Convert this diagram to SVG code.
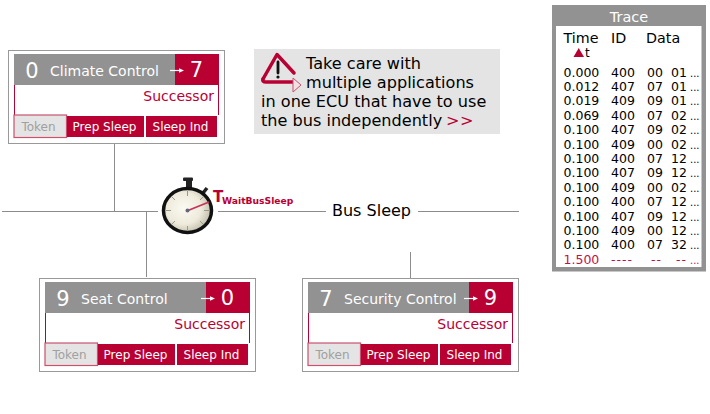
<svg xmlns="http://www.w3.org/2000/svg" width="710" height="414" viewBox="0 0 710 414">
<defs>
<radialGradient id="face" cx="0.42" cy="0.45" r="0.6"><stop offset="0" stop-color="#fbfaf2"/><stop offset="0.6" stop-color="#eeebdc"/><stop offset="1" stop-color="#bdbaa8"/></radialGradient>
<g id="ecu">
<rect class="frame" x="8.500" y="50.500" width="216" height="93"/>
<rect class="grey" x="14" y="54" width="161" height="31"/>
<rect class="red" x="175" y="54" width="44" height="31"/>
<path class="edge" d="M14.500 85V115M218.500 85V115"/>
<rect x="14" y="115" width="52.500" height="22.500" fill="#e4e4e4" stroke="#c9526f" stroke-width="1.200"/>
<rect class="red" x="67" y="116" width="77" height="21"/>
<rect class="red" x="146" y="116" width="71" height="21"/>
<text class="succ" x="214" y="101" text-anchor="end">Successor</text>
<text class="tok" x="38.500" y="131" text-anchor="middle">Token</text>
<text class="btn" x="104.500" y="131" text-anchor="middle">Prep Sleep</text>
<text class="btn" x="180.500" y="131" text-anchor="middle">Sleep Ind</text>
<path d="M170 70.500H179" stroke="#fff" stroke-width="1.200"/><path d="M179 68.200L184 70.500L179 72.800Z" fill="#fff"/>
</g>
</defs>
<style>
text{font-family:"DejaVu Sans",Verdana,sans-serif}
.frame{fill:#fff;stroke:#999;stroke-width:1}
.grey{fill:#929292}.red{fill:#b90033}
.edge{fill:none;stroke:#b90033;stroke-width:1}
.num{font-size:21px;fill:#fff}
.name{font-size:14px;fill:#fff}
.succ{font-size:14px;fill:#b90033}
.tok{font-size:12px;fill:#a0a0a0}
.btn{font-size:12px;fill:#fff}
.bus{fill:none;stroke:#8c8c8c;stroke-width:1}
.note{font-size:16.100px;fill:#000}
.hd{font-size:14.300px;fill:#000}
.tr{font-size:12.500px;fill:#000}
.dots{font-size:10px;fill:#000}
.late{font-size:12.500px;fill:#c0104a}
</style>
<g id="connectors">
<path class="bus" d="M2 211.500H158M218 211.500H326M418 211.500H519M114.500 144V211.500M146.500 211.500V277M410.500 252V278"/>
</g>
<g id="node-climate">
<use href="#ecu"/>
<text class="num" x="32" y="78" text-anchor="middle">0</text>
<text class="name" x="50" y="76">Climate Control</text>
<text class="num" x="196.500" y="77" text-anchor="middle">7</text>
</g>
<g id="node-seat" transform="translate(31 228)">
<use href="#ecu"/>
<text class="num" x="32" y="78" text-anchor="middle">9</text>
<text class="name" x="50" y="76">Seat Control</text>
<text class="num" x="196.500" y="77" text-anchor="middle">0</text>
</g>
<g id="node-security" transform="translate(294 228)">
<use href="#ecu"/>
<text class="num" x="32" y="78" text-anchor="middle">7</text>
<text class="name" x="50" y="76">Security Control</text>
<text class="num" x="196.500" y="77" text-anchor="middle">9</text>
</g>
<g id="note">
<rect x="254" y="49" width="246" height="85" fill="#e4e4e4"/>
<path d="M263 79L277 54.500L294 73" fill="none" stroke="#b90033" stroke-width="3.500" stroke-linejoin="round" stroke-linecap="round"/>
<path d="M263 79Q262 82 266 82H293" fill="none" stroke="#b90033" stroke-width="3.500" stroke-linecap="round"/>
<path d="M293 78L301 85L293 92Z" fill="#f4dfe5" stroke="#c9526f" stroke-width="1"/>
<path d="M278 62V73" stroke="#111" stroke-width="2.800" stroke-linecap="round"/><circle cx="278" cy="77" r="1.600" fill="#111"/>
<text class="note" x="306" y="69">Take care with</text>
<text class="note" x="306" y="88">multiple applications</text>
<text class="note" x="261" y="107">in one ECU that have to use</text>
<text class="note" x="261" y="126">the bus independently</text>
<text class="note" x="446" y="126" style="fill:#b90033;letter-spacing:0.500px">&gt;&gt;</text>
</g>
<g id="timer">
<rect x="186" y="178" width="6" height="10" fill="#222"/>
<rect x="183" y="177.500" width="10" height="3.500" rx="1" fill="#222"/>
<path d="M203 193L207 188" stroke="#222" stroke-width="3.500"/>
<ellipse cx="187.500" cy="210.500" rx="24" ry="22" fill="url(#face)" stroke="#111" stroke-width="3.500"/>
<path d="M187.500 191V196M187.500 226V231M166 210.500H171M204 210.500H209M172 197L175 200M200 221L203 224M172 224L175 221M200 200L203 197" stroke="#9a9a8a" stroke-width="1"/>
<path d="M188 210.500L209 202" stroke="#c8325a" stroke-width="1.800"/>
<circle cx="187.500" cy="210.500" r="2" fill="#667"/>
<text x="213" y="202" font-size="15" font-weight="bold" fill="#b90033">T</text>
<text x="222" y="204" font-size="9.200" font-weight="bold" fill="#b90033">WaitBusSleep</text>
</g>
<text x="371.500" y="216" font-size="16" text-anchor="middle" fill="#000">Bus Sleep</text>
<g id="trace">
<path fill="#929292" fill-rule="evenodd" d="M552 5H706V271.500H552ZM556 26V267H701.500V26Z"/>
<text x="629" y="22" font-size="14.500" text-anchor="middle" fill="#fff">Trace</text>
<text class="hd" x="563.500" y="43">Time</text>
<text class="hd" x="611" y="43">ID</text>
<text class="hd" x="646" y="43">Data</text>
<path d="M578.700 48L584 57H573.500Z" fill="#b90033"/><text x="585" y="57" font-size="12" fill="#000">t</text>
<text class="tr" x="563.500" y="77">0.000</text><text class="tr" x="611" y="77">400</text><text class="tr" x="647" y="77">00</text><text class="tr" x="671" y="77">01</text><text class="dots" x="690" y="77">...</text>
<text class="tr" x="563.500" y="91">0.012</text><text class="tr" x="611" y="91">407</text><text class="tr" x="647" y="91">07</text><text class="tr" x="671" y="91">01</text><text class="dots" x="690" y="91">...</text>
<text class="tr" x="563.500" y="105">0.019</text><text class="tr" x="611" y="105">409</text><text class="tr" x="647" y="105">09</text><text class="tr" x="671" y="105">01</text><text class="dots" x="690" y="105">...</text>
<text class="tr" x="563.500" y="120">0.069</text><text class="tr" x="611" y="120">400</text><text class="tr" x="647" y="120">07</text><text class="tr" x="671" y="120">02</text><text class="dots" x="690" y="120">...</text>
<text class="tr" x="563.500" y="134">0.100</text><text class="tr" x="611" y="134">407</text><text class="tr" x="647" y="134">09</text><text class="tr" x="671" y="134">02</text><text class="dots" x="690" y="134">...</text>
<text class="tr" x="563.500" y="149">0.100</text><text class="tr" x="611" y="149">409</text><text class="tr" x="647" y="149">00</text><text class="tr" x="671" y="149">02</text><text class="dots" x="690" y="149">...</text>
<text class="tr" x="563.500" y="163">0.100</text><text class="tr" x="611" y="163">400</text><text class="tr" x="647" y="163">07</text><text class="tr" x="671" y="163">12</text><text class="dots" x="690" y="163">...</text>
<text class="tr" x="563.500" y="177">0.100</text><text class="tr" x="611" y="177">407</text><text class="tr" x="647" y="177">09</text><text class="tr" x="671" y="177">12</text><text class="dots" x="690" y="177">...</text>
<text class="tr" x="563.500" y="192">0.100</text><text class="tr" x="611" y="192">409</text><text class="tr" x="647" y="192">00</text><text class="tr" x="671" y="192">02</text><text class="dots" x="690" y="192">...</text>
<text class="tr" x="563.500" y="206">0.100</text><text class="tr" x="611" y="206">400</text><text class="tr" x="647" y="206">07</text><text class="tr" x="671" y="206">12</text><text class="dots" x="690" y="206">...</text>
<text class="tr" x="563.500" y="221">0.100</text><text class="tr" x="611" y="221">407</text><text class="tr" x="647" y="221">09</text><text class="tr" x="671" y="221">12</text><text class="dots" x="690" y="221">...</text>
<text class="tr" x="563.500" y="235">0.100</text><text class="tr" x="611" y="235">409</text><text class="tr" x="647" y="235">00</text><text class="tr" x="671" y="235">12</text><text class="dots" x="690" y="235">...</text>
<text class="tr" x="563.500" y="249">0.100</text><text class="tr" x="611" y="249">400</text><text class="tr" x="647" y="249">07</text><text class="tr" x="671" y="249">32</text><text class="dots" x="690" y="249">...</text>
<text class="late" x="563.500" y="264">1.500</text><text class="late" x="611" y="264" style="letter-spacing:1px">----</text><text class="late" x="651" y="264" style="letter-spacing:1px">--</text><text class="late" x="676" y="264" style="letter-spacing:1px">--</text><text class="dots" x="690" y="264" style="fill:#c0104a">...</text>
</g>
</svg>
